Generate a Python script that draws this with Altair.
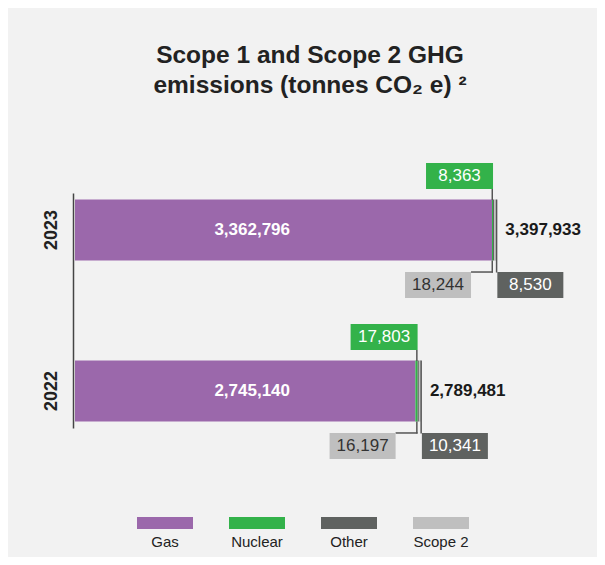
import altair as alt
import pandas as pd

years = ["2023", "2022"]
gas = [3362796, 2745140]
nuclear = [8363, 17803]
other = [8530, 10341]
scope2 = [18244, 16197]
categories = ["Gas", "Nuclear", "Other", "Scope 2"]
palette = ["#9b68ab", "#33b24a", "#5f6260", "#bfbfbf"]
title_lines = ["Scope 1 and Scope 2 GHG", "emissions (tonnes CO\u2082 e) \u00b2"]

rows = []
for i, yr in enumerate(years):
    for k, (cat, vals) in enumerate(zip(categories, [gas, nuclear, other, scope2])):
        rows.append({"year": yr, "category": cat, "value": vals[i], "ord": k})
long_df = pd.DataFrame(rows)
wide_df = pd.DataFrame({"year": years, "gas": gas, "nuclear": nuclear,
                        "other": other, "scope2": scope2})

FONT = "Liberation Sans"
x_scale = alt.Scale(domain=[0, 4000000])
y_plain = alt.Y("year:N", sort=years)

bars = alt.Chart(long_df).mark_bar().encode(
    x=alt.X("value:Q", stack="zero", scale=x_scale, axis=None),
    y=alt.Y("year:N", sort=years,
            scale=alt.Scale(paddingInner=0.62, paddingOuter=0.04),
            axis=alt.Axis(title=None, labelAngle=270, labelAlign="center",
                          labelBaseline="bottom", labelFontSize=18,
                          labelFontWeight="bold", labelColor="#222",
                          labelFont=FONT, labelPadding=13, ticks=False,
                          domainColor="#444", domainWidth=1.5, offset=2)),
    color=alt.Color("category:N",
                    scale=alt.Scale(domain=categories, range=palette),
                    legend=alt.Legend(title=None, orient="none", legendX=70, legendY=339,
                                      direction="horizontal", columns=4,
                                      symbolType="M-1.8,-2.5H3.8V-1.3H-1.8Z",
                                      symbolSize=400, symbolStrokeWidth=0,
                                      symbolOpacity=1, labelAlign="center",
                                      labelOffset=0, labelFontSize=15,
                                      labelFont=FONT, labelColor="#222",
                                      columnPadding=36, padding=0)),
    order=alt.Order("ord:Q"),
)

base = alt.Chart(wide_df).transform_calculate(
    nuc_end="datum.gas + datum.nuclear",
    total="datum.gas + datum.nuclear + datum.other + datum.scope2",
).transform_joinaggregate(min_gas="min(gas)").transform_calculate(
    gas_mid="datum.min_gas / 2"
)

LINE = "#555555"
nuc_x = alt.X("nuc_end:Q", scale=x_scale)
tot_x = alt.X("total:Q", scale=x_scale)

nuc_conn = base.mark_rect(color=LINE, height=11, yOffset=-35.5, xOffset=-1.5, x2Offset=0).encode(
    x=nuc_x, x2="nuc_end:Q", y=y_plain)
s2_h = base.mark_rect(color=LINE, height=1.5, yOffset=42, xOffset=-22, x2Offset=0).encode(
    x=nuc_x, x2="nuc_end:Q", y=y_plain)
s2_v = base.mark_rect(color=LINE, height=12, yOffset=36.5, xOffset=-1.5, x2Offset=0).encode(
    x=nuc_x, x2="nuc_end:Q", y=y_plain)
oth_v = base.mark_rect(color=LINE, height=73, yOffset=6, xOffset=-0.5, x2Offset=1).encode(
    x=tot_x, x2="total:Q", y=y_plain)

nuc_box = base.mark_rect(color=palette[1], height=26, yOffset=-54, xOffset=-67, x2Offset=0).encode(
    x=nuc_x, x2="nuc_end:Q", y=y_plain)
s2_box = base.mark_rect(color=palette[3], height=26, yOffset=55, xOffset=-88, x2Offset=-22).encode(
    x=nuc_x, x2="nuc_end:Q", y=y_plain)
oth_box = base.mark_rect(color=palette[2], height=26, yOffset=55, xOffset=1, x2Offset=67).encode(
    x=tot_x, x2="total:Q", y=y_plain)

txt = dict(font=FONT, fontSize=17, baseline="middle")
nuc_txt = base.mark_text(color="white", dx=-33.5, yOffset=-54, **txt).encode(
    x=nuc_x, y=y_plain, text=alt.Text("nuclear:Q", format=",d"))
s2_txt = base.mark_text(color="#333333", dx=-55, yOffset=55, **txt).encode(
    x=nuc_x, y=y_plain, text=alt.Text("scope2:Q", format=",d"))
oth_txt = base.mark_text(color="white", dx=34, yOffset=55, **txt).encode(
    x=tot_x, y=y_plain, text=alt.Text("other:Q", format=",d"))
gas_txt = base.mark_text(color="white", fontWeight="bold", dx=7, **txt).encode(
    x=alt.X("gas_mid:Q", scale=x_scale), y=y_plain, text=alt.Text("gas:Q", format=",d"))
tot_txt = base.mark_text(color="#1a1a1a", fontWeight="bold", align="left", dx=9, **txt).encode(
    x=tot_x, y=y_plain, text=alt.Text("total:Q", format=",d"))

chart = alt.layer(
    bars, nuc_conn, s2_h, s2_v, oth_v, nuc_box, s2_box, oth_box,
    nuc_txt, s2_txt, oth_txt, gas_txt, tot_txt
).properties(
    width=496, height=235,
    padding={"left": 67, "top": 185, "right": 26, "bottom": 129},
    autosize=alt.AutoSizeParams(type="none"),
    title=alt.TitleParams(title_lines, fontSize=24.5, font=FONT, fontWeight="bold",
                          color="#222222", anchor="middle", dx=-13, offset=65,
                          lineHeight=30),
).configure(background="#f2f2f2").configure_view(stroke=None)

chart.save("out.html", embed_options={"renderer": "svg", "actions": False})
